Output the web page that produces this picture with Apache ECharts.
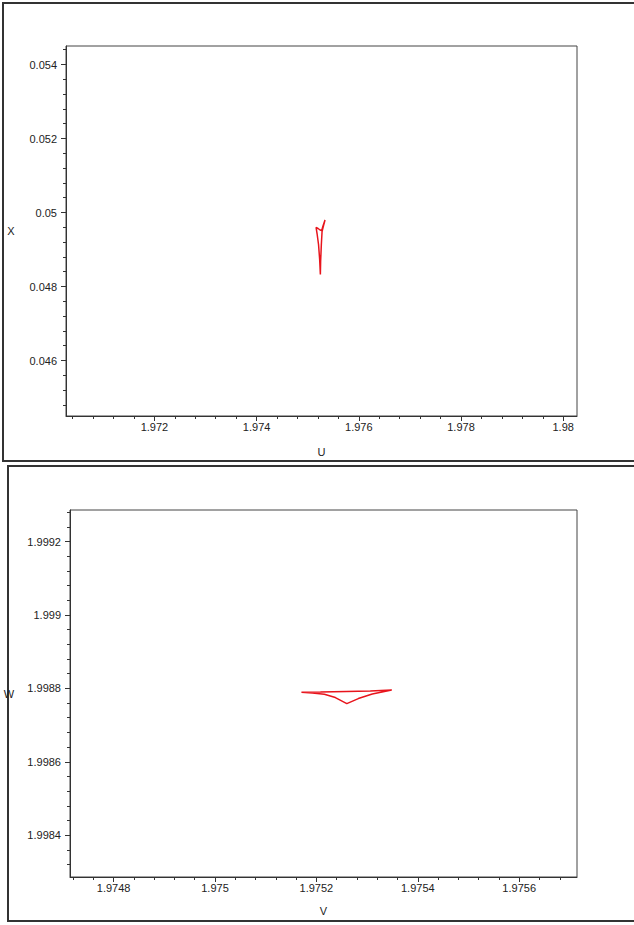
<!DOCTYPE html>
<html>
<head>
<meta charset="utf-8">
<script src="https://cdn.jsdelivr.net/npm/echarts@6/dist/echarts.min.js"></script>
<style>
html,body{margin:0;padding:0;background:#fff;}
#c{width:634px;height:925px;}
</style>
</head>
<body>
<div id="c"></div>
<script>
// ---- data ----
var topU = [1.975339, 1.975310, 1.975281, 1.975267, 1.975253, 1.975248, 1.975234, 1.975212, 1.975183, 1.975164, 1.975203, 1.975242, 1.975275, 1.975296, 1.975339];
var topX = [0.049797, 0.049649, 0.049486, 0.049135, 0.048676, 0.048324, 0.048730, 0.049135, 0.049432, 0.049595, 0.049568, 0.049527, 0.049514, 0.049620, 0.049797];

var botV = [1.9753486, 1.9753063, 1.9752591, 1.9752079, 1.9751705, 1.9751921, 1.9752157, 1.9752374, 1.9752600, 1.9752827, 1.9753102, 1.9753486];
var botW = [1.9987954, 1.9987926, 1.9987913, 1.9987899, 1.9987891, 1.9987872, 1.9987839, 1.9987749, 1.9987585, 1.9987722, 1.9987844, 1.9987954];

var topUTicks = [1.972, 1.974, 1.976, 1.978, 1.98];
var topXTicks = [0.046, 0.048, 0.05, 0.052, 0.054];
var botVTicks = [1.9748, 1.975, 1.9752, 1.9754, 1.9756];
var botWTicks = [1.9984, 1.9986, 1.9988, 1.999, 1.9992];

var topURange = [1.97027, 1.98027];
var topXRange = [0.0445, 0.0545];
var botVRange = [1.974714, 1.975714];
var botWRange = [1.998286, 1.999286];

// ---- helpers ----
function pairs(xs, ys){ return xs.map(function(x,i){ return [x, ys[i]]; }); }
function minorTicks(range, step){
  var out = [];
  var k0 = Math.ceil(range[0]/step - 1e-9), k1 = Math.floor(range[1]/step + 1e-9);
  for (var k = k0; k <= k1; k++) out.push(parseFloat((k*step).toPrecision(10)));
  return out;
}
function fmt(v){ return String(parseFloat(Number(v).toPrecision(6))); }

var lblStyle = {color:'#222', fontFamily:'Liberation Sans, Arial, sans-serif', fontSize:11};
var lineCol = '#333';

function majorAxis(grid, range, ticks, isX, margin, name, nameGap){
  return {
    type:'value', gridIndex:grid, min:range[0], max:range[1],
    position: isX ? 'bottom' : 'left',
    splitLine:{show:false},
    axisLine:{show:true, onZero:false, lineStyle:{color:lineCol, width:1}},
    axisTick:{show:true, inside:false, length:5, customValues:ticks, lineStyle:{color:lineCol}},
    axisLabel:{show:true, margin:margin, customValues:ticks, formatter:fmt, color:lblStyle.color, fontFamily:lblStyle.fontFamily, fontSize:lblStyle.fontSize},
    name:name, nameLocation:'middle', nameGap:nameGap, nameRotate:0,
    nameTextStyle:{color:'#222', fontFamily:lblStyle.fontFamily, fontSize:11, align:'center', verticalAlign:'middle'}
  };
}
function minorAxis(grid, range, step, isX){
  return {
    type:'value', gridIndex:grid, min:range[0], max:range[1],
    position: isX ? 'bottom' : 'left',
    splitLine:{show:false},
    axisLine:{show:false, onZero:false},
    axisTick:{show:true, inside:false, length:3, customValues:minorTicks(range, step), lineStyle:{color:lineCol}},
    axisLabel:{show:false}
  };
}

var chart = echarts.init(document.getElementById('c'), null, {renderer:'svg'});
chart.setOption({
  backgroundColor:'#fff',
  animation:false,
  graphic:[
    {type:'rect', shape:{x:3, y:3, width:650, height:458}, style:{fill:'none', stroke:'#333', lineWidth:2}, z:-1},
    {type:'rect', shape:{x:8, y:466, width:650, height:455}, style:{fill:'none', stroke:'#333', lineWidth:2}, z:-1}
  ],
  grid:[
    {left:66, top:46, width:511, height:370, show:true, borderColor:'#444', borderWidth:1, backgroundColor:'transparent'},
    {left:70, top:510, width:507, height:367, show:true, borderColor:'#444', borderWidth:1, backgroundColor:'transparent'}
  ],
  xAxis:[
    majorAxis(0, topURange, topUTicks, true, 5, 'U', 36),
    minorAxis(0, topURange, 0.0004, true),
    majorAxis(1, botVRange, botVTicks, true, 5, 'V', 34),
    minorAxis(1, botVRange, 0.00004, true)
  ],
  yAxis:[
    majorAxis(0, topXRange, topXTicks, false, 9, 'X', 55),
    minorAxis(0, topXRange, 0.0004, false),
    majorAxis(1, botWRange, botWTicks, false, 9, 'W', 61),
    minorAxis(1, botWRange, 0.00004, false)
  ],
  series:[
    {type:'line', xAxisIndex:0, yAxisIndex:0, data:pairs(topU, topX), showSymbol:false, lineStyle:{color:'#e8141c', width:1.5}, itemStyle:{color:'#e8141c'}},
    {type:'line', xAxisIndex:2, yAxisIndex:2, data:pairs(botV, botW), showSymbol:false, lineStyle:{color:'#e8141c', width:1.5}, itemStyle:{color:'#e8141c'}}
  ]
});
</script>
</body>
</html>
